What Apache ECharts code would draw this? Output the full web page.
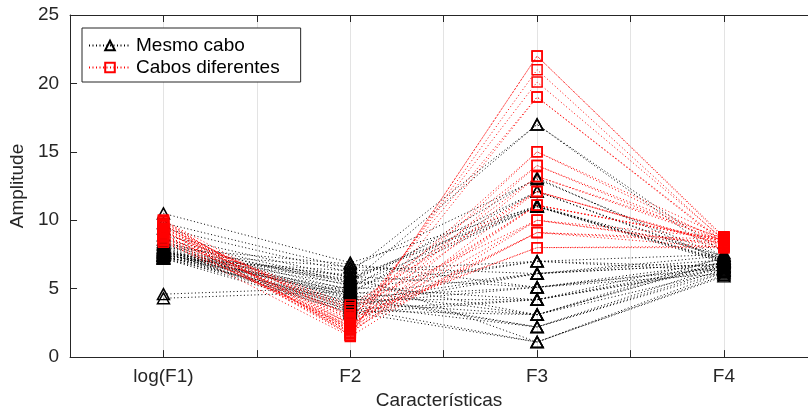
<!DOCTYPE html>
<html>
<head>
<meta charset="utf-8">
<script src="https://cdn.jsdelivr.net/npm/echarts@6/dist/echarts.min.js"></script>
<style>html,body{margin:0;padding:0;background:#fff}#c{width:808px;height:415px}</style>
</head>
<body>
<div id="c"></div>
<script>
const categories = ['log(F1)', 'F2', 'F3', 'F4'];
const yTicks = [0, 5, 10, 15, 20, 25];
const seriesNames = ['Mesmo cabo', 'Cabos diferentes'];

// "Mesmo cabo" lines: value of each feature per line
const blackF1 = [10.5, 9.8, 9.4, 8.9, 8.6, 8.4, 8.2, 8.1, 8.0, 7.9, 7.9, 7.8, 7.8, 7.7, 7.7, 7.6, 7.6, 7.5, 7.5, 7.5, 7.4, 7.4, 7.4, 7.3, 7.3, 7.3, 7.2, 7.2, 7.2, 7.6, 7.8, 8.0, 8.3, 4.6, 4.3, 7.4];
const blackF2 = [6.9, 6.5, 6.2, 5.8, 5.5, 5.2, 4.9, 4.6, 4.4, 4.2, 4.0, 3.8, 3.6, 3.4, 3.2, 5.9, 6.6, 5.3, 4.8, 4.5, 6.0, 5.6, 3.9, 4.7, 5.0, 3.5, 4.1, 6.3, 3.3, 5.7, 4.3, 6.8, 5.4, 5.1, 4.8, 3.7];
const blackF3 = [11.0, 13.0, 17.0, 11.1, 12.1, 11.0, 7.0, 6.1, 5.1, 4.2, 3.1, 2.2, 1.1, 3.1, 4.2, 5.1, 6.1, 7.0, 11.0, 2.2, 1.1, 3.1, 5.1, 12.1, 13.1, 4.2, 6.1, 7.0, 1.1, 11.0, 2.2, 5.1, 17.0, 4.2, 3.1, 6.1];
const blackF4 = [7.4, 7.3, 7.2, 7.0, 7.1, 6.9, 7.5, 6.8, 6.6, 6.4, 6.9, 6.2, 6.0, 7.0, 7.2, 6.5, 7.1, 6.3, 7.0, 6.7, 6.2, 7.3, 6.1, 7.2, 7.0, 6.5, 6.8, 6.6, 5.9, 7.1, 6.4, 6.9, 7.6, 6.7, 6.3, 7.4];

// "Cabos diferentes" lines
const redF1 = [10.0, 9.9, 9.8, 9.7, 9.6, 9.5, 9.4, 9.3, 9.2, 9.1, 9.0, 8.9, 8.8, 8.7, 8.6, 8.5, 8.4, 9.6, 9.3, 9.0, 8.8, 10.0, 9.7, 9.4, 9.1, 8.6];
const redF2 = [1.6, 2.0, 2.4, 1.8, 2.9, 2.2, 3.3, 1.7, 2.6, 3.6, 2.0, 2.8, 1.9, 3.1, 2.3, 1.5, 2.5, 3.0, 1.6, 2.1, 3.5, 2.7, 1.8, 2.4, 3.8, 2.2];
const redF3 = [22.0, 21.0, 20.1, 19.0, 15.0, 14.0, 13.2, 12.1, 11.1, 10.0, 9.1, 8.0, 13.2, 12.1, 11.1, 10.0, 9.1, 8.0, 22.0, 15.0, 14.0, 19.0, 11.1, 10.0, 12.1, 9.1];
const redF4 = [8.7, 8.5, 8.6, 8.4, 8.8, 8.3, 8.5, 8.2, 8.6, 8.1, 8.4, 8.0, 8.7, 8.3, 8.5, 8.2, 8.6, 8.1, 8.8, 8.4, 8.6, 8.3, 8.5, 8.7, 8.2, 8.0];

const FONT = 'Liberation Sans, Arial, Helvetica, sans-serif';
const AX = '#262626';

function buildSeries(name, f1, f2, f3, f4, color, symbol, size) {
  const out = [];
  for (let i = 0; i < f1.length; i++) {
    out.push({
      name: name,
      type: 'line',
      data: [[1, f1[i]], [2, f2[i]], [3, f3[i]], [4, f4[i]]],
      symbol: symbol,
      symbolSize: size,
      showSymbol: true,
      showAllSymbol: true,
      itemStyle: { color: 'rgba(0,0,0,0)', borderColor: color, borderWidth: 1.5 },
      lineStyle: { color: color, width: 1, type: [1, 2.5] },
      emphasis: { disabled: true },
      silent: true,
      animation: false
    });
  }
  return out;
}

const series = []
  .concat(buildSeries(seriesNames[0], blackF1, blackF2, blackF3, blackF4, '#000000', 'triangle', [12, 11]))
  .concat(buildSeries(seriesNames[1], redF1, redF2, redF3, redF4, '#ff0000', 'rect', [10, 10]));

const chart = echarts.init(document.getElementById('c'), null, { renderer: 'canvas' });
chart.setOption({
  animation: false,
  backgroundColor: '#ffffff',
  textStyle: { fontFamily: FONT },
  grid: { left: 68, top: 15, right: 0, bottom: 54, containLabel: false },
  legend: {
    data: seriesNames,
    orient: 'vertical',
    left: 82, top: 28,
    padding: [8, 21, 5, 6],
    itemGap: 3,
    itemWidth: 42,
    itemHeight: 12,
    backgroundColor: '#ffffff',
    borderColor: AX,
    borderWidth: 1,
    borderRadius: 0,
    selectedMode: false,
    textStyle: { fontFamily: FONT, fontSize: 19, color: '#000', lineHeight: 19 }
  },
  xAxis: [{
    type: 'value', min: 0.5, max: 4.45, interval: 0.5,
    position: 'bottom',
    name: 'Características', nameLocation: 'middle', nameGap: 30,
    nameTextStyle: { fontFamily: FONT, fontSize: 19, color: AX },
    axisLine: { show: true, onZero: false, lineStyle: { color: AX, width: 1 } },
    axisTick: { show: true, inside: true, length: 7, lineStyle: { color: AX } },
    axisLabel: {
      fontFamily: FONT, fontSize: 19, color: AX, margin: 10, showMaxLabel: false,
      formatter: v => (Math.abs(v - Math.round(v)) < 1e-6 && v >= 1 && v <= categories.length) ? categories[Math.round(v) - 1] : ''
    },
    splitLine: { show: true, lineStyle: { color: '#e3e3e3', width: 1 } }
  }, {
    type: 'value', min: 0.5, max: 4.45, interval: 0.5,
    position: 'top',
    axisLine: { show: true, onZero: false, lineStyle: { color: AX, width: 1 } },
    axisTick: { show: true, inside: true, length: 7, lineStyle: { color: AX } },
    axisLabel: { show: false },
    splitLine: { show: false }
  }],
  yAxis: {
    type: 'value', min: yTicks[0], max: yTicks[yTicks.length - 1], interval: 5,
    name: 'Amplitude', nameLocation: 'middle', nameGap: 35, nameRotate: 90,
    nameTextStyle: { fontFamily: FONT, fontSize: 19, color: AX },
    axisLine: { show: true, onZero: false, lineStyle: { color: AX, width: 1 } },
    axisTick: { show: true, inside: true, length: 7, lineStyle: { color: AX } },
    axisLabel: { fontFamily: FONT, fontSize: 19, color: AX, margin: 11 },
    splitLine: { show: false }
  },
  series: series
});
</script>
</body>
</html>
